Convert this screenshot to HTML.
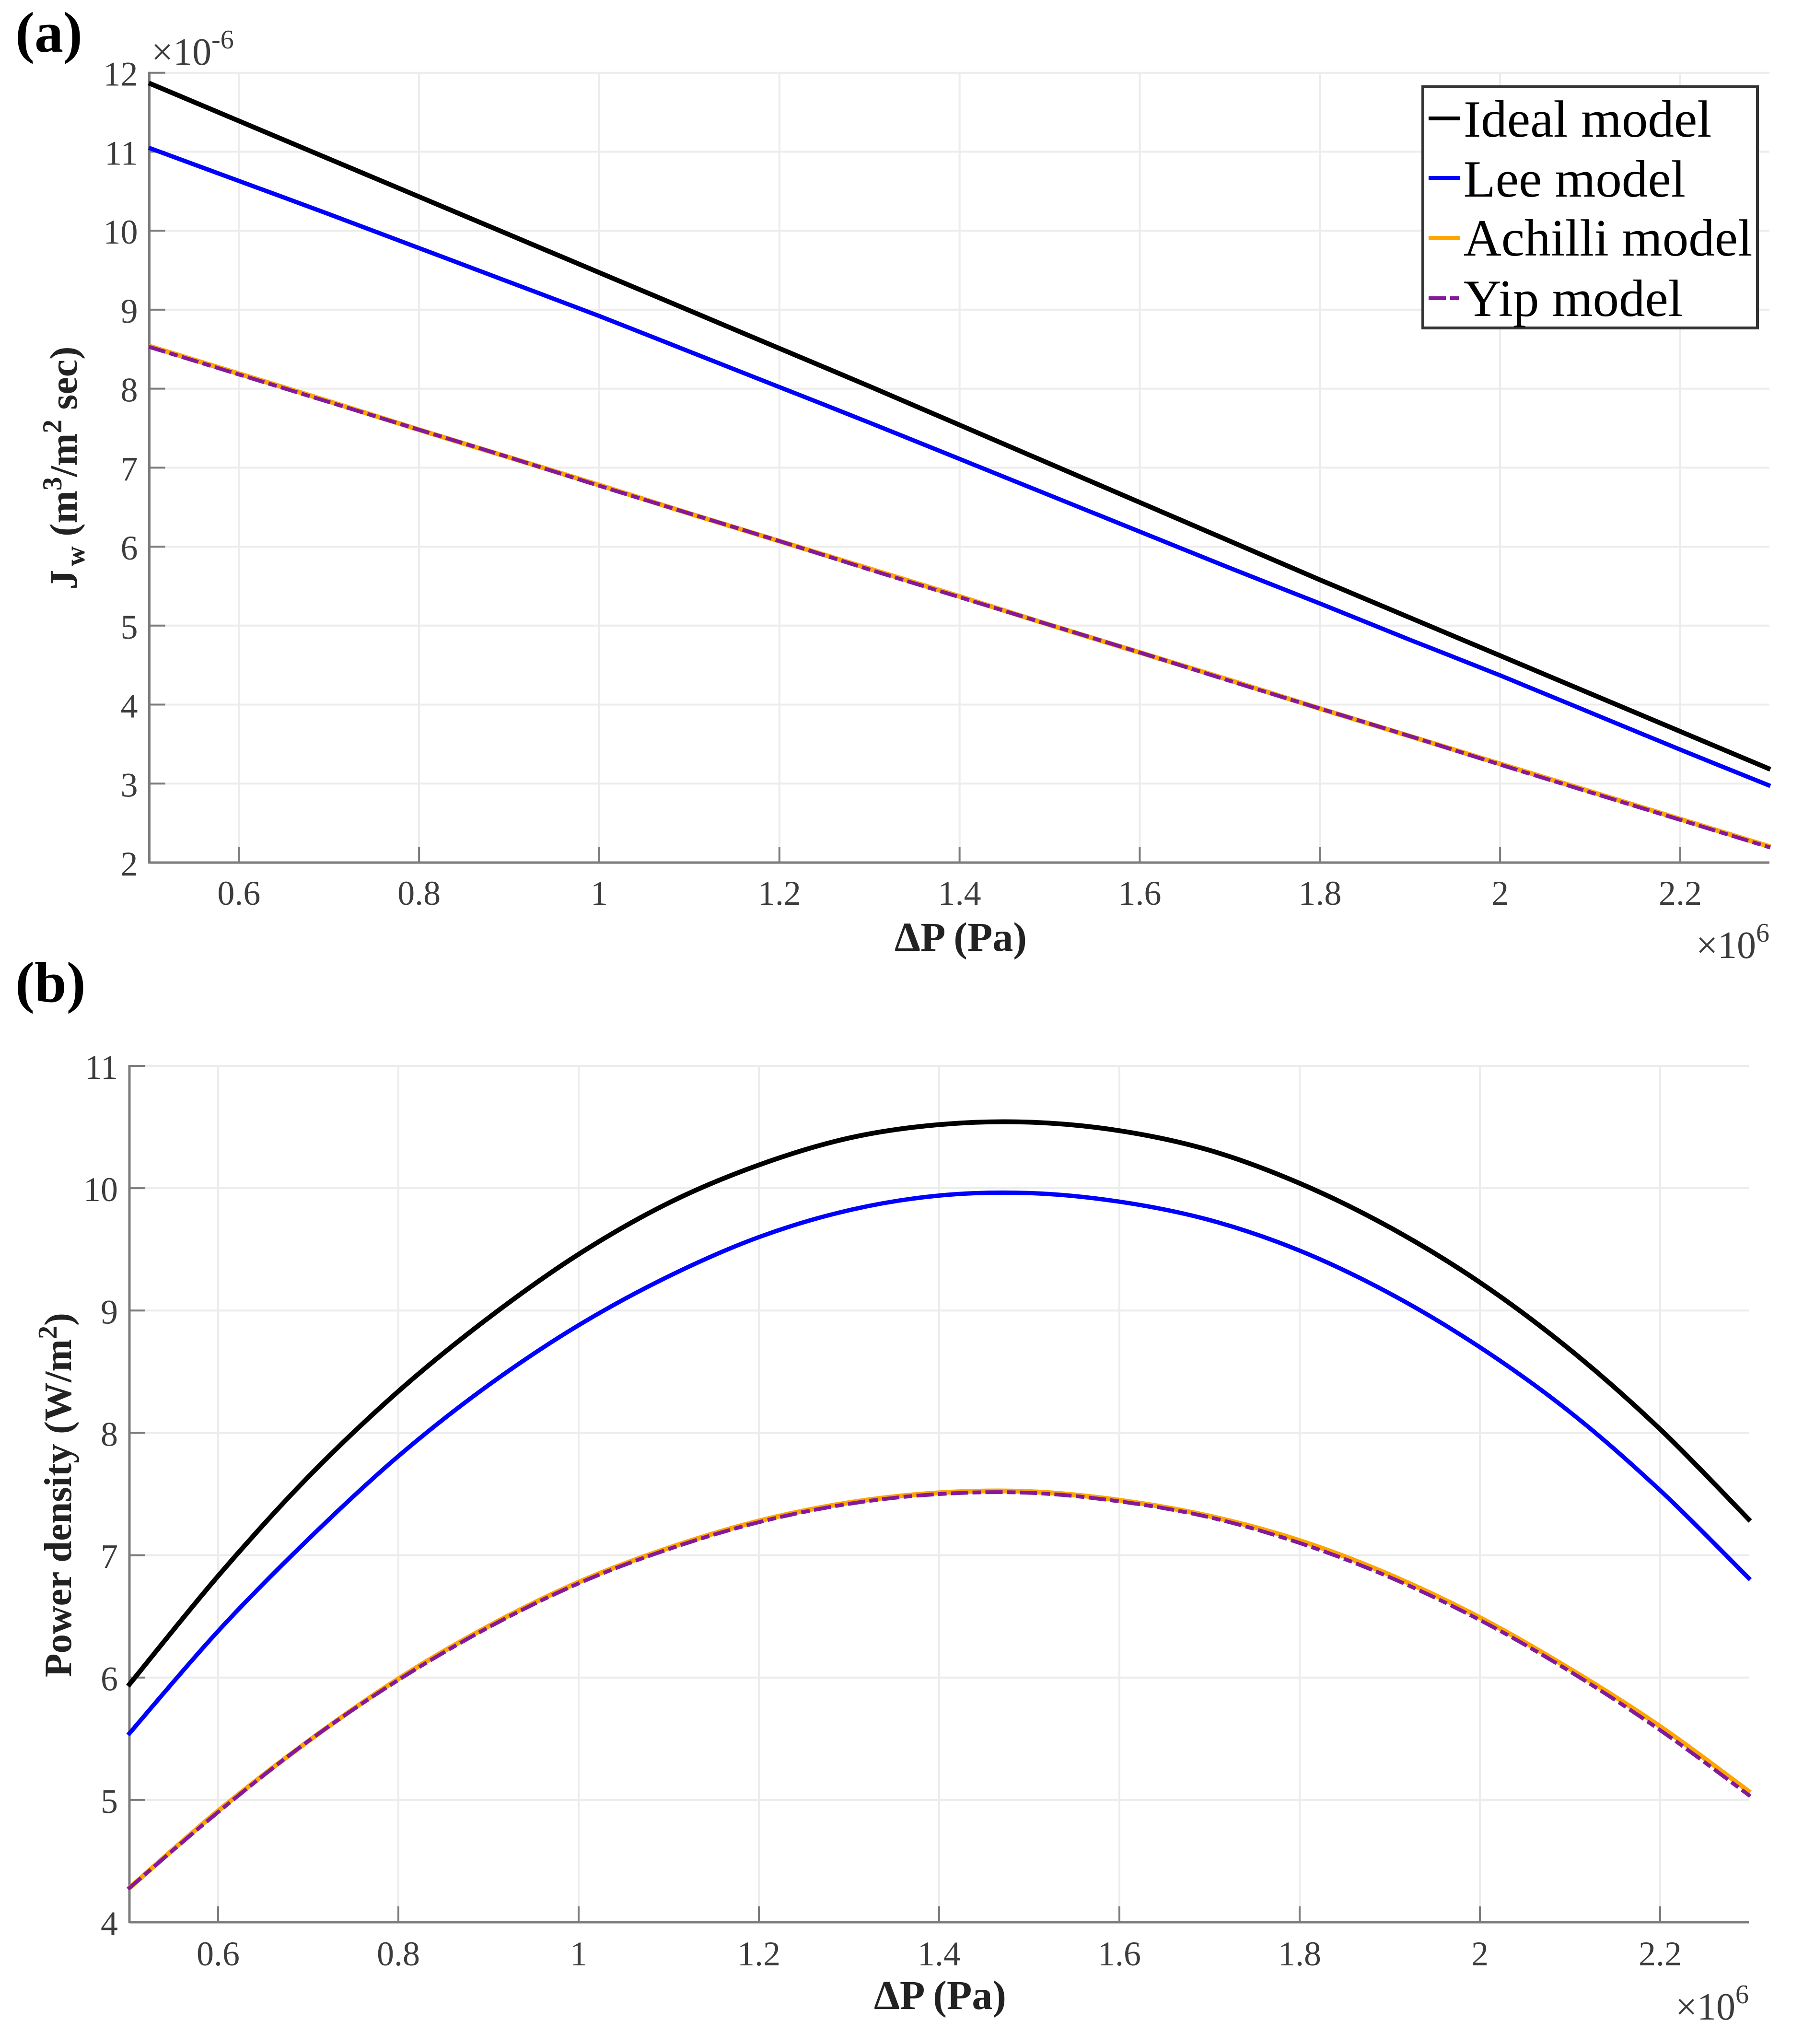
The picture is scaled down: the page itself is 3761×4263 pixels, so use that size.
<!DOCTYPE html>
<html>
<head>
<meta charset="utf-8">
<title>Water flux and power density vs pressure</title>
<style>
html,body{margin:0;padding:0;background:#fff;}
svg{display:block;}
text{font-family:"Liberation Serif",serif;}
.tick{font-size:72px;fill:#3c3c3c;}
.expo{font-size:80px;fill:#3c3c3c;}
.lab{font-size:86px;font-weight:bold;fill:#222;}
.panel{font-size:120px;font-weight:bold;fill:#000;}
.leg{font-size:109px;fill:#000;}
</style>
</head>
<body>
<svg id="chart" xmlns="http://www.w3.org/2000/svg" width="3761" height="4263" viewBox="0 0 3761 4263">
<rect x="0" y="0" width="3761" height="4263" fill="#fff"/>
<text class="panel" x="32" y="108">(a)</text>
<text class="panel" x="32" y="2089">(b)</text>

<g id="panelA"></g>
<g id="panelB"></g>

<text class="expo" x="316" y="135">×10<tspan font-size="56" dy="-34">-6</tspan></text>
<text class="expo" x="3691" y="1998" text-anchor="end">×10<tspan font-size="56" dy="-34">6</tspan></text>
<text class="expo" x="3648" y="4212" text-anchor="end">×10<tspan font-size="56" dy="-34">6</tspan></text>

<text class="lab" x="2004" y="1983" text-anchor="middle">ΔP (Pa)</text>
<text class="lab" x="1961" y="4190" text-anchor="middle">ΔP (Pa)</text>
<text class="lab" transform="translate(160,976) rotate(-90)" text-anchor="middle" style="font-size:82px">J<tspan font-size="57" dy="16" dx="8">w</tspan><tspan dy="-16"> (m</tspan><tspan font-size="57" dy="-32">3</tspan><tspan dy="32">/m</tspan><tspan font-size="57" dy="-32">2</tspan><tspan dy="32"> sec)</tspan></text>
<text class="lab" transform="translate(148,3118) rotate(-90)" text-anchor="middle" style="font-size:81px">Power density (W/m<tspan font-size="56" dy="-30">2</tspan><tspan dy="30">)</tspan></text>

<g>
<rect x="2968" y="181" width="698" height="503" fill="#fff" stroke="#333" stroke-width="6"/>
<line x1="2980" x2="3045" y1="247" y2="247" stroke="#000" stroke-width="8"/>
<text class="leg" x="3053" y="285">Ideal model</text>
<line x1="2980" x2="3045" y1="371" y2="371" stroke="#0000ff" stroke-width="8"/>
<text class="leg" x="3053" y="410">Lee model</text>
<line x1="2980" x2="3045" y1="496" y2="496" stroke="#ffa500" stroke-width="8"/>
<text class="leg" x="3053" y="533">Achilli model</text>
<line x1="2980" x2="3045" y1="622" y2="622" stroke="#84199a" stroke-width="8" stroke-dasharray="36 9 18 9"/>
<text class="leg" x="3053" y="659">Yip model</text>
</g>
</svg>

<script>
const pressure = [0.5,0.6,0.7,0.8,0.9,1.0,1.1,1.2,1.3,1.4,1.5,1.6,1.7,1.8,1.9,2.0,2.1,2.2,2.3];
const xTicks = [0.6,0.8,1,1.2,1.4,1.6,1.8,2,2.2];
const yTicksFlux = [2,3,4,5,6,7,8,9,10,11,12];
const yTicksPower = [4,5,6,7,8,9,10,11];

const fluxIdeal = [11.87,11.39,10.91,10.43,9.95,9.47,8.99,8.51,8.03,7.54,7.05,6.56,6.07,5.58,5.10,4.62,4.14,3.66,3.18];
const fluxLee = [11.05,10.63,10.21,9.78,9.35,8.92,8.47,8.02,7.57,7.11,6.65,6.19,5.73,5.28,4.82,4.37,3.90,3.43,2.97];
const fluxAchilli = [8.54,8.19,7.84,7.48,7.13,6.78,6.42,6.07,5.72,5.37,5.01,4.66,4.31,3.95,3.60,3.25,2.90,2.55,2.20];
const fluxYip = [8.53,8.18,7.83,7.48,7.13,6.77,6.42,6.07,5.71,5.36,5.01,4.66,4.30,3.95,3.60,3.24,2.89,2.54,2.19];

const powerIdeal = [5.93,6.83,7.64,8.34,8.94,9.46,9.88,10.19,10.41,10.52,10.54,10.47,10.31,10.04,9.68,9.23,8.68,8.03,7.28];
const powerLee = [5.53,6.38,7.13,7.81,8.39,8.88,9.28,9.60,9.82,9.94,9.96,9.89,9.74,9.49,9.14,8.70,8.17,7.53,6.80];
const powerAchilli = [4.27,4.91,5.48,5.99,6.42,6.78,7.06,7.28,7.43,7.51,7.52,7.45,7.32,7.12,6.84,6.49,6.07,5.60,5.06];
const powerYip = [4.27,4.90,5.48,5.98,6.41,6.77,7.05,7.27,7.42,7.50,7.51,7.44,7.31,7.10,6.82,6.47,6.05,5.57,5.03];

const NS = 'http://www.w3.org/2000/svg';

function make(parent, tag, attrs, text) {
  const el = document.createElementNS(NS, tag);
  for (const k in attrs) el.setAttribute(k, attrs[k]);
  if (text !== undefined) el.textContent = text;
  parent.appendChild(el);
  return el;
}

function smoothPath(points) {
  let d = 'M' + points[0][0].toFixed(1) + ' ' + points[0][1].toFixed(1);
  for (let i = 0; i < points.length - 1; i++) {
    const p0 = points[Math.max(i - 1, 0)];
    const p1 = points[i];
    const p2 = points[i + 1];
    const p3 = points[Math.min(i + 2, points.length - 1)];
    const c1x = p1[0] + (p2[0] - p0[0]) / 6;
    const c1y = p1[1] + (p2[1] - p0[1]) / 6;
    const c2x = p2[0] - (p3[0] - p1[0]) / 6;
    const c2y = p2[1] - (p3[1] - p1[1]) / 6;
    d += 'C' + c1x.toFixed(1) + ' ' + c1y.toFixed(1) + ' ' + c2x.toFixed(1) + ' ' + c2y.toFixed(1) + ' ' + p2[0].toFixed(1) + ' ' + p2[1].toFixed(1);
  }
  return d;
}

function drawPanel(group, box, yMin, yMax, yTicks, series) {
  const xScale = v => box.x0 + (v - 0.5) / (2.3 - 0.5) * (box.x1 - box.x0);
  const yScale = v => box.bottom - (v - yMin) / (yMax - yMin) * (box.bottom - box.top);

  xTicks.forEach(t => {
    const grid = make(group, 'line', {x1: xScale(t), x2: xScale(t), y1: box.top, y2: box.bottom, stroke: '#ececec', 'stroke-width': 4});
    
    
  });
  yTicks.forEach(t => {
    const grid = make(group, 'line', {x1: box.left, x2: box.right, y1: yScale(t), y2: yScale(t), stroke: '#ececec', 'stroke-width': 4});
    
    
  });

  const yAxis = make(group, 'line', {x1: box.left, x2: box.left, y1: box.top - 2, y2: box.bottom + 2, stroke: '#7c7c7c', 'stroke-width': 5});
  
  
  const xAxis = make(group, 'line', {x1: box.left, x2: box.right, y1: box.bottom, y2: box.bottom, stroke: '#7c7c7c', 'stroke-width': 5});
  
  

  xTicks.forEach(t => {
    const tick = make(group, 'line', {x1: xScale(t), x2: xScale(t), y1: box.bottom, y2: box.bottom - 33, stroke: '#7c7c7c', 'stroke-width': 4});
    
    
    const label = make(group, 'text', {x: xScale(t), y: box.bottom + box.xLabelGap, 'text-anchor': 'middle', class: 'tick'}, String(t));
    
    
  });
  yTicks.forEach(t => {
    const tick = make(group, 'line', {x1: box.left, x2: box.left + 33, y1: yScale(t), y2: yScale(t), stroke: '#7c7c7c', 'stroke-width': 4});
    
    
    const label = make(group, 'text', {x: box.left - 24, y: yScale(t) + 27, 'text-anchor': 'end', class: 'tick'}, String(t));
    
    
  });

  series.forEach(s => {
    const pts = pressure.map((p, i) => [xScale(p), yScale(s.values[i])]);
    const line = make(group, 'path', {d: smoothPath(pts), fill: 'none', stroke: s.color, 'stroke-width': s.width});
    if (s.dash) line.setAttribute('stroke-dasharray', s.dash);
    
    
  });
}

drawPanel(document.getElementById('panelA'),
  {left: 311.5, right: 3691, x0: 310.4, x1: 3692.9, top: 151.7, bottom: 1799, xLabelGap: 88}, 2, 12, yTicksFlux, [
  {name: 'flux-ideal-line', values: fluxIdeal, color: '#000000', width: 10},
  {name: 'flux-lee-line', values: fluxLee, color: '#0000ff', width: 9},
  {name: 'flux-achilli-line', values: fluxAchilli, color: '#ffa500', width: 10},
  {name: 'flux-yip-line', values: fluxYip, color: '#84199a', width: 8, dash: '36 9 18 9'}
]);

drawPanel(document.getElementById('panelB'),
  {left: 270, right: 3648, x0: 267, x1: 3651, top: 2223, bottom: 4009, xLabelGap: 90}, 4, 11, yTicksPower, [
  {name: 'power-ideal-line', values: powerIdeal, color: '#000000', width: 10},
  {name: 'power-lee-line', values: powerLee, color: '#0000ff', width: 9},
  {name: 'power-achilli-line', values: powerAchilli, color: '#ffa500', width: 10},
  {name: 'power-yip-line', values: powerYip, color: '#84199a', width: 8, dash: '36 9 18 9'}
]);
</script>
</body>
</html>
